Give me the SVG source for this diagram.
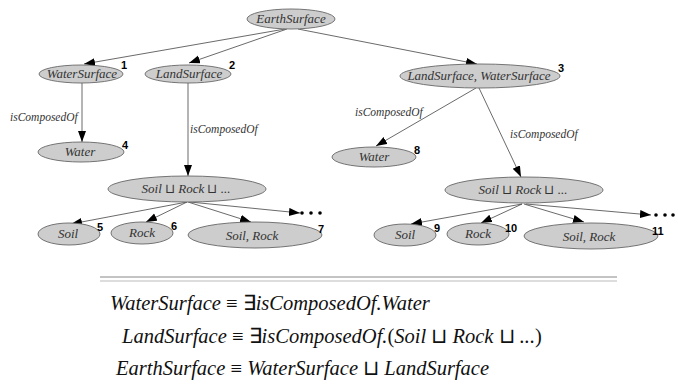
<svg xmlns="http://www.w3.org/2000/svg" width="678" height="388" viewBox="0 0 678 388">
<style>
.n{fill:#cdcdcd;stroke:#666;stroke-width:0.9}
.t{font-size:13px;fill:#333;text-anchor:middle}
.num{font-weight:bold;font-size:11px;fill:#000}
.e{stroke:#444;stroke-width:0.8;fill:none;marker-end:url(#ah)}
.lbl{font-size:11.5px;fill:#333}
.f{font-size:20.5px;fill:#111}
.dot{fill:#000}
</style>
<defs>
<marker id="ah" markerUnits="userSpaceOnUse" markerWidth="12" markerHeight="10" refX="11" refY="4" orient="auto">
<path d="M0,0 L11,4 L0,8 Z" fill="#000"/>
</marker>
</defs>
<g id="connectors">
<path class="e" d="M285,29 L84,64"/>
<path class="e" d="M287,29 L189,63"/>
<path class="e" d="M298,29 L477,64"/>
<path class="e" d="M82,83 L82,142"/>
<path class="e" d="M188,83 L188,176"/>
<path class="e" d="M476,88 L376,146"/>
<path class="e" d="M479,88 L521,177"/>
<path class="e" d="M187,202 L71,224"/>
<path class="e" d="M187,202 L146,222"/>
<path class="e" d="M188,202 L251,222"/>
<path class="e" d="M190,202 L300,213"/>
<path class="e" d="M522,204 L411,224"/>
<path class="e" d="M522,204 L481,223"/>
<path class="e" d="M524,204 L584,222"/>
<path class="e" d="M526,204 L651,215"/>
<g font-family="Liberation Serif" font-style="italic">
<text class="lbl" x="10" y="121">isComposedOf</text>
<text class="lbl" x="190" y="133">isComposedOf</text>
<text class="lbl" x="355" y="116">isComposedOf</text>
<text class="lbl" x="510" y="138">isComposedOf</text>
</g>
<circle class="dot" cx="302" cy="213" r="1.8"/><circle class="dot" cx="311" cy="213" r="1.8"/><circle class="dot" cx="320" cy="213" r="1.8"/>
<circle class="dot" cx="656" cy="215" r="1.8"/><circle class="dot" cx="665" cy="215" r="1.8"/><circle class="dot" cx="673" cy="215" r="1.8"/>
</g>
<g font-family="Liberation Serif" font-style="italic">
<g id="EarthSurface"><ellipse class="n" cx="291" cy="19" rx="44" ry="10"/><text class="t" x="291" y="23">EarthSurface</text></g>
<g id="n1"><ellipse class="n" cx="81" cy="74" rx="42" ry="9"/><text class="t" x="82" y="78">WaterSurface</text><text class="num" x="121" y="69" font-family="Liberation Sans" font-style="normal">1</text></g>
<g id="n2"><ellipse class="n" cx="188" cy="74" rx="43" ry="9"/><text class="t" x="189" y="78">LandSurface</text><text class="num" x="229" y="69" font-family="Liberation Sans" font-style="normal">2</text></g>
<g id="n3"><ellipse class="n" cx="480" cy="76" rx="80" ry="12"/><text class="t" x="479" y="80" fill="#3a2a44">LandSurface, WaterSurface</text><text class="num" x="558" y="72" font-family="Liberation Sans" font-style="normal">3</text></g>
<g id="n4"><ellipse class="n" cx="81" cy="152" rx="43" ry="10"/><text class="t" x="80" y="156">Water</text><text class="num" x="122" y="149" font-family="Liberation Sans" font-style="normal">4</text></g>
<g id="nSRL"><ellipse class="n" cx="187" cy="189" rx="79" ry="13"/><text class="t" x="186" y="193">Soil <tspan font-style="normal">⊔</tspan> Rock <tspan font-style="normal">⊔</tspan> ...</text></g>
<g id="n5"><ellipse class="n" cx="69" cy="234" rx="31" ry="11"/><text class="t" x="68" y="238">Soil</text><text class="num" x="97" y="231" font-family="Liberation Sans" font-style="normal">5</text></g>
<g id="n6"><ellipse class="n" cx="142" cy="233" rx="31" ry="11"/><text class="t" x="142" y="237">Rock</text><text class="num" x="171" y="230" font-family="Liberation Sans" font-style="normal">6</text></g>
<g id="n7"><ellipse class="n" cx="255" cy="235" rx="67" ry="13"/><text class="t" x="252" y="240">Soil, Rock</text><text class="num" x="318" y="233" font-family="Liberation Sans" font-style="normal">7</text></g>
<g id="n8"><ellipse class="n" cx="374" cy="157" rx="42" ry="10"/><text class="t" x="374" y="161">Water</text><text class="num" x="414" y="154" font-family="Liberation Sans" font-style="normal">8</text></g>
<g id="nSRR"><ellipse class="n" cx="524" cy="190" rx="79" ry="13"/><text class="t" x="523" y="194">Soil <tspan font-style="normal">⊔</tspan> Rock <tspan font-style="normal">⊔</tspan> ...</text></g>
<g id="n9"><ellipse class="n" cx="405" cy="235" rx="31" ry="11"/><text class="t" x="405" y="239">Soil</text><text class="num" x="434" y="232" font-family="Liberation Sans" font-style="normal">9</text></g>
<g id="n10"><ellipse class="n" cx="478" cy="234" rx="31" ry="11"/><text class="t" x="478" y="238">Rock</text><text class="num" x="505" y="232" font-family="Liberation Sans" font-style="normal">10</text></g>
<g id="n11"><ellipse class="n" cx="591" cy="236" rx="67" ry="13"/><text class="t" x="589" y="241">Soil, Rock</text><text class="num" x="652" y="235" font-family="Liberation Sans" font-style="normal">11</text></g>
</g>
<line x1="100" y1="277" x2="617" y2="277" stroke="#888" stroke-width="1"/>
<line x1="100" y1="281" x2="617" y2="281" stroke="#bbb" stroke-width="1"/>
<g font-family="Liberation Serif" font-style="italic">
<text class="f" x="110" y="310">WaterSurface <tspan font-style="normal">≡ ∃</tspan>isComposedOf.Water</text>
<text class="f" x="122" y="343">LandSurface <tspan font-style="normal">≡ ∃</tspan>isComposedOf.<tspan font-style="normal">(</tspan>Soil <tspan font-style="normal">⊔</tspan> Rock <tspan font-style="normal">⊔</tspan> ...<tspan font-style="normal">)</tspan></text>
<text class="f" x="116" y="375">EarthSurface <tspan font-style="normal">≡</tspan> WaterSurface <tspan font-style="normal">⊔</tspan> LandSurface</text>
</g>
</svg>
